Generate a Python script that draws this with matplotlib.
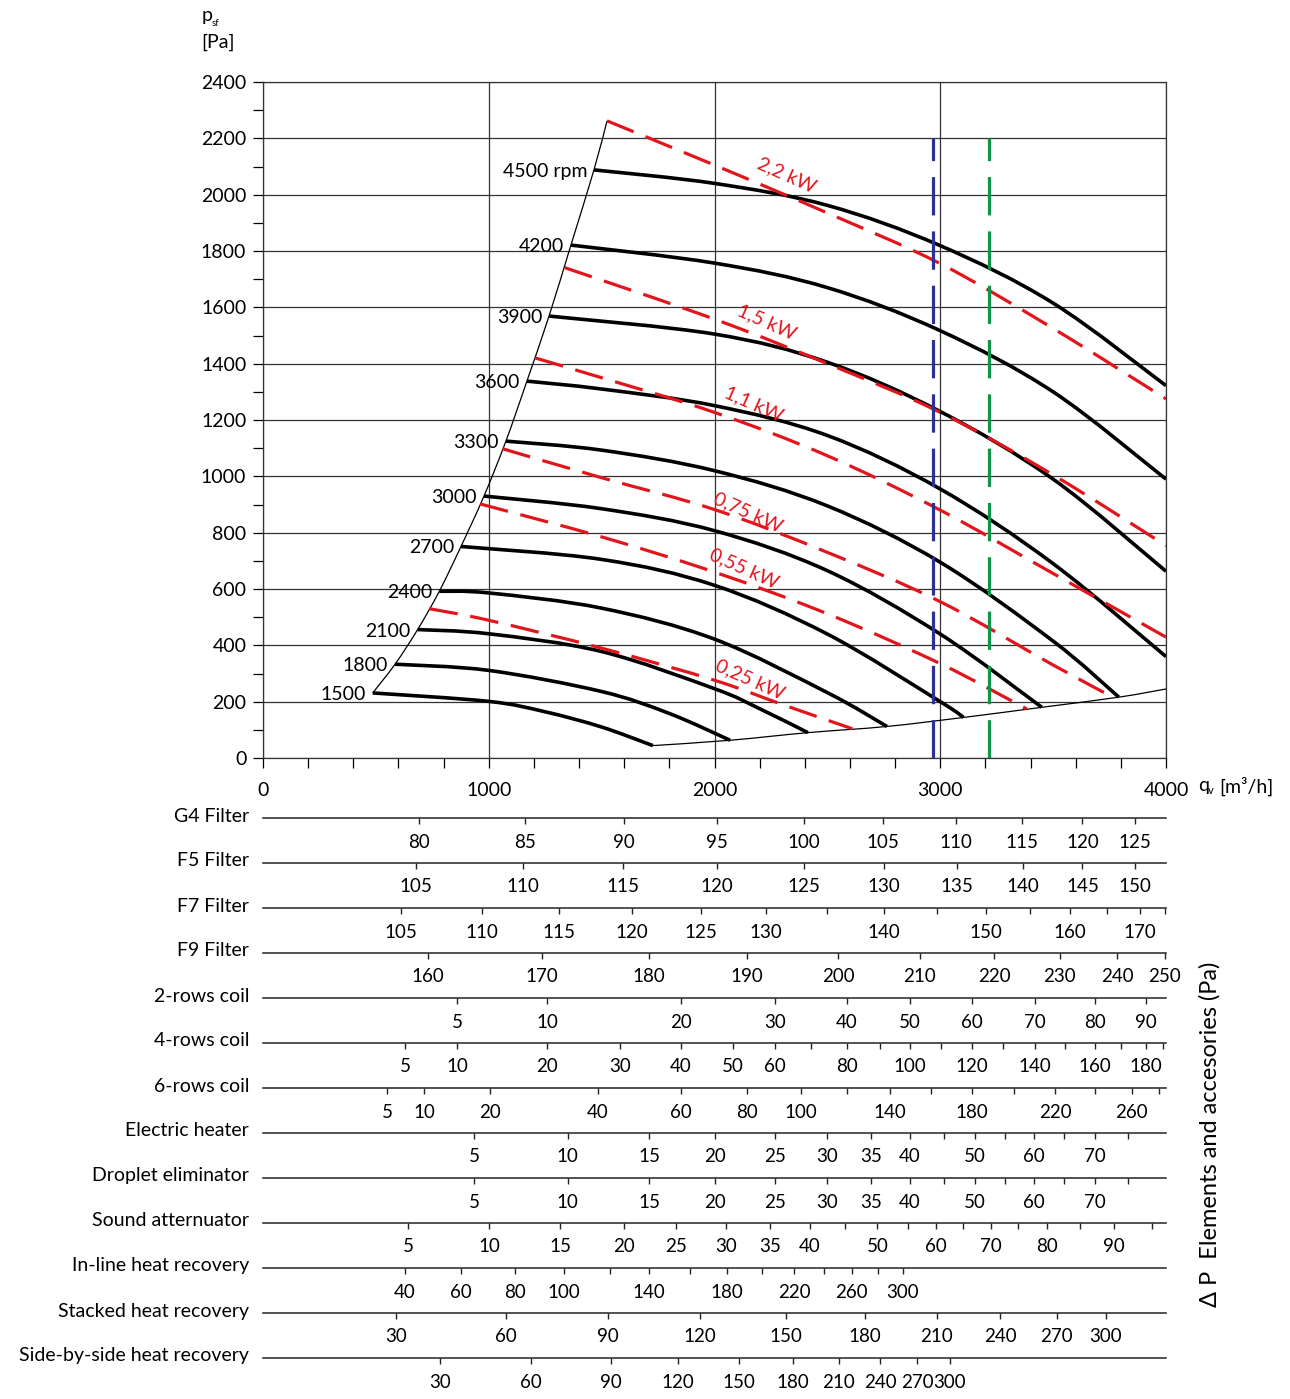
import numpy as np
import matplotlib
matplotlib.use("Agg")
import matplotlib.pyplot as plt
from matplotlib.path import Path
from matplotlib.patches import PathPatch

plt.rcParams['font.family'] = ['Lato', 'DejaVu Sans']

# fan speed curves (flow m3/h, static pressure Pa)
speeds = [1500, 1800, 2100, 2400, 2700, 3000, 3300, 3600, 3900, 4200, 4500]
q_1500 = [486, 1000, 1250, 1500, 1727]
p_1500 = [231, 201, 164, 110, 44]
q_1800 = [585, 1000, 1500, 1800, 2069]
p_1800 = [333, 311, 236, 158, 63]
q_2100 = [685, 1000, 1500, 2000, 2200, 2414]
p_2100 = [456, 441, 378, 246, 175, 90]
q_2400 = [781, 1000, 1500, 2000, 2500, 2764]
p_2400 = [592, 586, 532, 422, 232, 112]
q_2700 = [877, 1500, 2000, 2500, 3000, 3103]
p_2700 = [751, 705, 613, 440, 200, 144]
q_3000 = [979, 1500, 2000, 2500, 3000, 3450]
p_3000 = [930, 885, 807, 665, 440, 180]
q_3300 = [1076, 1500, 2000, 2500, 3000, 3500, 3791]
p_3300 = [1125, 1093, 1020, 895, 695, 415, 216]
q_3600 = [1169, 1500, 2000, 2500, 3000, 3500, 4000]
p_3600 = [1338, 1310, 1251, 1145, 955, 690, 360]
q_3900 = [1267, 2000, 2500, 3000, 3500, 4000]
p_3900 = [1569, 1505, 1405, 1230, 990, 663]
q_4200 = [1364, 2000, 2500, 3000, 3500, 4000]
p_4200 = [1821, 1757, 1670, 1517, 1300, 990]
q_4500 = [1466, 2000, 2500, 3000, 3500, 4000]
p_4500 = [2088, 2040, 1962, 1819, 1615, 1322]

# power lines
power_labels = ['0,25 kW', '0,55 kW', '0,75 kW', '1,1 kW', '1,5 kW', '2,2 kW']
q_025 = [737, 1000, 1500, 2000, 2300, 2610]
p_025 = [530, 489, 390, 276, 190, 104]
q_055 = [962, 1500, 2000, 2500, 3000, 3383]
p_055 = [902, 785, 660, 512, 335, 174]
q_075 = [1061, 1500, 2000, 2500, 3000, 3500, 3767]
p_075 = [1098, 995, 882, 730, 555, 330, 215]
q_11 = [1207, 1500, 2000, 2500, 3000, 3500, 4000]
p_11 = [1420, 1350, 1227, 1073, 880, 655, 429]
q_15 = [1336, 2000, 2500, 3000, 3500, 4000]
p_15 = [1741, 1558, 1400, 1227, 1005, 754]
q_22 = [1524, 2000, 2500, 3000, 3500, 4000]
p_22 = [2262, 2105, 1935, 1755, 1525, 1275]
power_label_q = [2157, 2131, 2149, 2175, 2233, 2321]
power_label_p = [280, 671, 870, 1257, 1548, 2068]

# operating limits
left_q = [486, 585, 685, 781, 877, 979, 1076, 1169, 1267, 1364, 1466, 1524]
left_p = [231, 333, 456, 592, 751, 930, 1125, 1338, 1569, 1821, 2088, 2262]
bottom_q = [1727, 2069, 2414, 2764, 3103, 3450, 3791, 4000]
bottom_p = [44, 63, 90, 112, 144, 180, 216, 245]

# working points
blue_q = 2970
green_q = 3218
marker_top = 2200

# accessory pressure drop scales: flow where each value is reached
row_names = ['G4 Filter', 'F5 Filter', 'F7 Filter', 'F9 Filter', '2-rows coil',
             '4-rows coil', '6-rows coil', 'Electric heater', 'Droplet eliminator',
             'Sound atternuator', 'In-line heat recovery', 'Stacked heat recovery',
             'Side-by-side heat recovery']
g4_q = [691, 1161, 1599, 2011, 2396, 2746, 3070, 3364, 3630, 3863]
g4_v = [80, 85, 90, 95, 100, 105, 110, 115, 120, 125]
f5_q = [678, 1152, 1595, 2011, 2396, 2751, 3074, 3367, 3630, 3863]
f5_v = [105, 110, 115, 120, 125, 130, 135, 140, 145, 150]
f7_q = [611, 970, 1311, 1635, 1940, 2228, 2498, 2751, 2986, 3203, 3398, 3575, 3739, 3885, 3995]
f7_v = [105, 110, 115, 120, 125, 130, '', 140, '', 150, '', 160, '', 170, '']
f9_q = [731, 1236, 1710, 2144, 2547, 2910, 3238, 3530, 3783, 3995]
f9_v = [160, 170, 180, 190, 200, 210, 220, 230, 240, 250]
c2_q = [859, 1258, 1852, 2268, 2587, 2866, 3141, 3418, 3685, 3911]
c2_v = [5, 10, 20, 30, 40, 50, 60, 70, 80, 90]
c4_q = [629, 859, 1258, 1581, 1852, 2080, 2268, 2427, 2587, 2731, 2866, 3003, 3141,
        3278, 3418, 3553, 3685, 3801, 3911, 3987]
c4_v = [5, 10, 20, 30, 40, 50, 60, '', 80, '', 100, '', 120, '', 140, '', 160, '', 180, '']
c6_q = [549, 713, 1006, 1484, 1852, 2144, 2383, 2587, 2777, 2959, 3141, 3327, 3508,
        3685, 3849, 3969]
c6_v = [5, 10, 20, 40, 60, 80, 100, '', 140, '', 180, '', 220, '', 260, '']
eh_q = [935, 1349, 1710, 2002, 2266, 2497, 2693, 2864, 3017, 3154, 3287, 3415, 3548, 3685, 3832]
eh_v = [5, 10, 15, 20, 25, 30, 35, 40, '', 50, '', 60, '', 70, '']
de_q = [935, 1349, 1710, 2002, 2266, 2497, 2693, 2864, 3017, 3154, 3287, 3415, 3548, 3685, 3832]
de_v = [5, 10, 15, 20, 25, 30, 35, 40, '', 50, '', 60, '', 70, '']
sa_q = [642, 1001, 1316, 1599, 1829, 2051, 2246, 2423, 2578, 2722, 2857, 2981, 3101,
        3225, 3344, 3475, 3617, 3770, 3940]
sa_v = [5, 10, 15, 20, 25, 30, 35, 40, '', 50, '', 60, '', 70, '', 80, '', 90, '']
il_q = [629, 877, 1115, 1333, 1535, 1710, 1891, 2054, 2209, 2352, 2485, 2608, 2724, 2833]
il_v = [40, 60, 80, 100, '', 140, '', 180, '', 220, '', 260, '', 300]
st_q = [589, 1076, 1528, 1934, 2317, 2667, 2984, 3265, 3516, 3734]
st_v = [30, 60, 90, 120, 150, 180, 210, 240, 270, 300]
sbs_q = [784, 1187, 1542, 1838, 2109, 2346, 2551, 2733, 2897, 3043]
sbs_v = [30, 60, 90, 120, 150, 180, 210, 240, 270, 300]


def smooth_path(qs, ps):
    # cubic bezier through the read points (catmull-rom tangents)
    pts = np.column_stack([qs, ps]).astype(float)
    verts = [pts[0]]
    codes = [Path.MOVETO]
    for i in range(len(pts) - 1):
        p0 = pts[i - 1] if i > 0 else pts[i]
        p1, p2 = pts[i], pts[i + 1]
        p3 = pts[i + 2] if i + 2 < len(pts) else p2
        verts += [p1 + (p2 - p0) / 6, p2 - (p3 - p1) / 6, p2]
        codes += [Path.CURVE4] * 3
    return Path(verts, codes)


W, H = 1290, 1399
fig = plt.figure(figsize=(W / 100, H / 100), dpi=100)
FS = 14
RED = '#E3151C'

ax = fig.add_axes([263 / W, 1 - 758 / H, 903 / W, 676 / H])
ax.set_xlim(0, 4000)
ax.set_ylim(0, 2400)
ax.set_xticks(range(0, 4001, 1000))
ax.set_xticks(range(0, 4001, 200), minor=True)
ax.set_yticks(range(0, 2401, 200))
ax.set_yticks(range(100, 2400, 200), minor=True)
ax.tick_params(which='both', direction='out', length=7, width=0.9, labelsize=FS)
ax.tick_params(axis='x', pad=10)
ax.tick_params(axis='y', pad=5)
ax.grid(True, which='major', color='#333333', lw=0.9)
for s in ax.spines.values():
    s.set_linewidth(0.9)
    s.set_color('#333333')

# limits
ax.add_patch(PathPatch(smooth_path(left_q, left_p), fill=False, ec='black', lw=0.9, zorder=3))
ax.add_patch(PathPatch(smooth_path(bottom_q, bottom_p), fill=False, ec='black', lw=0.9, zorder=3))

curves_q = [q_1500, q_1800, q_2100, q_2400, q_2700, q_3000, q_3300, q_3600, q_3900, q_4200, q_4500]
curves_p = [p_1500, p_1800, p_2100, p_2400, p_2700, p_3000, p_3300, p_3600, p_3900, p_4200, p_4500]
for n, qs, ps in zip(speeds, curves_q, curves_p):
    ax.add_patch(PathPatch(smooth_path(qs, ps), fill=False, ec='black', lw=2.6,
                           capstyle='butt', zorder=4))
    txt = f'{n} rpm' if n == 4500 else str(n)
    ax.annotate(txt, (qs[0], ps[0]), xytext=(-5, 0), textcoords='offset points',
                ha='right', va='center_baseline', fontsize=FS, zorder=6)

power_q = [q_025, q_055, q_075, q_11, q_15, q_22]
power_p = [p_025, p_055, p_075, p_11, p_15, p_22]
for lbl, qs, ps, lq, lp in zip(power_labels, power_q, power_p, power_label_q, power_label_p):
    pp = PathPatch(smooth_path(qs, ps), fill=False, ec=RED, lw=2.3, zorder=5)
    pp.set_linestyle((0, (9, 4)))
    ax.add_patch(pp)
    ax.text(lq, lp, lbl, color=RED, fontsize=FS, rotation=-24, rotation_mode='anchor',
            ha='center', va='center', zorder=6)

ax.plot([blue_q, blue_q], [0, marker_top], color='#2E3192', lw=2.3, dashes=(12, 5), zorder=5)
ax.plot([green_q, green_q], [0, marker_top], color='#109447', lw=2.3, dashes=(12, 5), zorder=5)

# axis titles
fig.text(202 / W, 1 - 16 / H, 'p', fontsize=FS, ha='left', va='center')
fig.text(212 / W, 1 - 23 / H, 'sf', fontsize=7, ha='left', va='center')
fig.text(201 / W, 1 - 42 / H, '[Pa]', fontsize=FS, ha='left', va='center')
fig.text(1198 / W, 1 - 786 / H, 'q', fontsize=FS, ha='left', va='center')
fig.text(1208 / W, 1 - 791 / H, 'v', fontsize=8, ha='left', va='center')
fig.text(1219 / W, 1 - 786 / H, '[m³/h]', fontsize=FS, ha='left', va='center')

# accessory scales
ax2 = fig.add_axes([263 / W, 0, 903 / W, (H - 795) / H])
ax2.set_xlim(0, 4000)
ax2.set_ylim(H, 795)
ax2.axis('off')
rows_q = [g4_q, f5_q, f7_q, f9_q, c2_q, c4_q, c6_q, eh_q, de_q, sa_q, il_q, st_q, sbs_q]
rows_v = [g4_v, f5_v, f7_v, f9_v, c2_v, c4_v, c6_v, eh_v, de_v, sa_v, il_v, st_v, sbs_v]
for i, (name, qs, vs) in enumerate(zip(row_names, rows_q, rows_v)):
    y = 818 + 45 * i
    ax2.plot([0, 4000], [y, y], color='#222222', lw=1.1, clip_on=False)
    ax2.vlines(qs, y, y + 6, color='#222222', lw=1.0, clip_on=False)
    for q, v in zip(qs, vs):
        if v != '':
            ax2.text(q, y + 24, str(v), ha='center', va='center', fontsize=13.5, clip_on=False)
    ax2.text(-62, y - 2, name, ha='right', va='center', fontsize=FS, clip_on=False)

fig.text(1210 / W, 1 - 1134 / H, 'Δ P  Elements and accesories (Pa)', rotation=90,
         ha='center', va='center', fontsize=17)

fig.savefig('out.png', dpi=100)
